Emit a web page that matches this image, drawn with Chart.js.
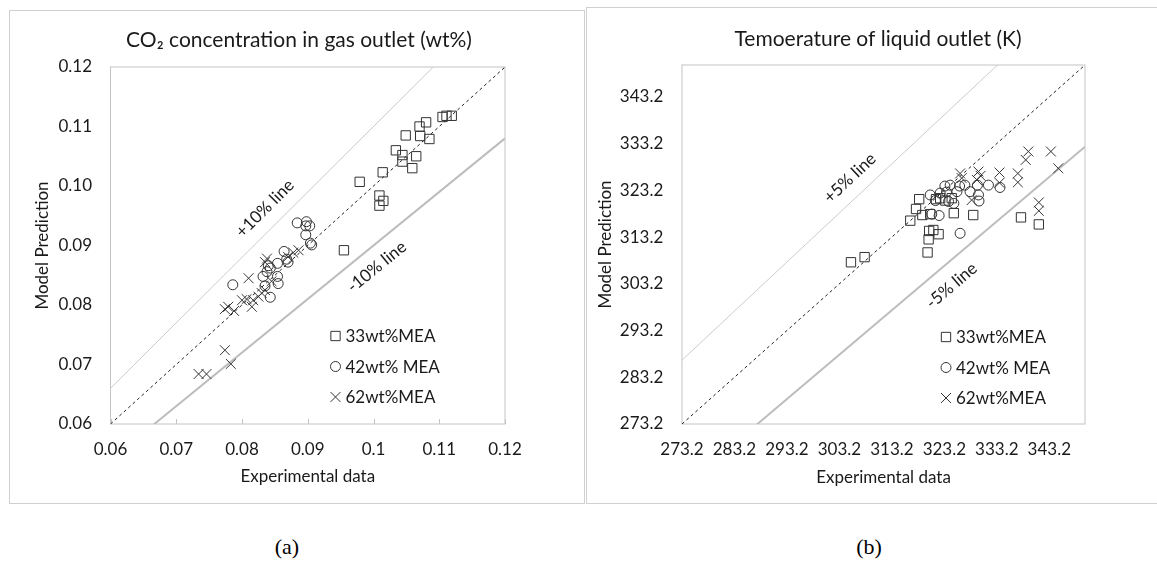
<!DOCTYPE html>
<html>
<head>
<meta charset="utf-8">
<title>CO2 and liquid outlet temperature parity plots</title>
<script src="https://cdn.jsdelivr.net/npm/chart.js@4.4.1/dist/chart.umd.min.js"></script>
<style>
    html, body {
        margin: 0;
        padding: 0;
        background: #ffffff;
    }

    body {
        position: relative;
        width: 1157px;
        height: 576px;
        overflow: hidden;
    }

    .panel {
        position: absolute;
        box-sizing: border-box;
        border: 1px solid #d0d0d0;
    }

    #panelA { left: 9px;   top: 10px; width: 576px; height: 494px; }
    #panelB { left: 586px; top: 7px;  width: 600px; height: 497px; }

    canvas {
        position: absolute;
    }

    #chartA { left: 10px;  top: 11px; }
    #chartB { left: 587px; top: 8px; }

    .caption {
        position: absolute;
        top: 534px;
        width: 60px;
        text-align: center;
        font-family: "Liberation Serif", "Times New Roman", serif;
        font-size: 22px;
        color: #000;
    }

    #capA { left: 257px; }
    #capB { left: 839px; }
</style>
</head>
<body>

<div class="panel" id="panelA"></div>
<div class="panel" id="panelB"></div>

<canvas id="chartA" width="573" height="491"></canvas>
<canvas id="chartB" width="570" height="494"></canvas>

<div class="caption" id="capA">(a)</div>
<div class="caption" id="capB">(b)</div>

<script>
// =====================================
// Data - (a) CO2 concentration in gas outlet (wt%)
// =====================================

const co2Ticks = [0.06, 0.07, 0.08, 0.09, 0.10, 0.11, 0.12];
const co2XLabels = ["0.06", "0.07", "0.08", "0.09", "0.1", "0.11", "0.12"];
const co2YLabels = ["0.06", "0.07", "0.08", "0.09", "0.10", "0.11", "0.12"];

const co2Mea33X = [0.1119, 0.1111, 0.1105, 0.1080, 0.1070, 0.1071, 0.1085, 0.1049, 0.1034, 0.1044,
                   0.1044, 0.1065, 0.1059, 0.1014, 0.0979, 0.1009, 0.1015, 0.1009, 0.0955];
const co2Mea33Y = [0.1118, 0.1118, 0.1116, 0.1107, 0.1100, 0.1084, 0.1079, 0.1085, 0.1060, 0.1052,
                   0.1041, 0.1050, 0.1030, 0.1023, 0.1007, 0.0984, 0.0975, 0.0967, 0.0892];

const co2Mea42X = [0.0884, 0.0898, 0.0897, 0.0903, 0.0897, 0.0904, 0.0906, 0.0864, 0.0868, 0.0854,
                   0.0843, 0.0838, 0.0854, 0.0855, 0.0786, 0.0832, 0.0835, 0.0843, 0.0840, 0.0870];
const co2Mea42Y = [0.0938, 0.0940, 0.0933, 0.0933, 0.0918, 0.0904, 0.0901, 0.0890, 0.0877, 0.0870,
                   0.0862, 0.0856, 0.0848, 0.0836, 0.0834, 0.0848, 0.0832, 0.0813, 0.0866, 0.0872];

const co2Mea62X = [0.0835, 0.0838, 0.0810, 0.0774, 0.0779, 0.0788, 0.0800, 0.0807, 0.0815, 0.0817,
                   0.0825, 0.0835, 0.0870, 0.0878, 0.0886, 0.0774, 0.0783, 0.0734, 0.0746, 0.0830,
                   0.0845];
const co2Mea62Y = [0.0872, 0.0878, 0.0845, 0.0793, 0.0797, 0.0790, 0.0808, 0.0810, 0.0797, 0.0808,
                   0.0814, 0.0825, 0.0881, 0.0888, 0.0892, 0.0724, 0.0701, 0.0684, 0.0684, 0.0820,
                   0.0840];

// =====================================
// Data - (b) Temperature of liquid outlet (K)
// =====================================

const tempMin = 273.2;
const tempMax = 350;
const tempTicks = [273.2, 283.2, 293.2, 303.2, 313.2, 323.2, 333.2, 343.2];
const tempLabels = ["273.2", "283.2", "293.2", "303.2", "313.2", "323.2", "333.2", "343.2"];

const tempMea33X = [305.4, 308.0, 316.7, 317.8, 318.4, 319.0, 320.0, 320.2, 320.3, 321.1,
                    322.1, 320.5, 321.6, 322.4, 323.4, 324.6, 325.0, 328.7, 337.8, 341.2];
const tempMea33Y = [307.8, 308.9, 316.7, 319.2, 321.3, 317.9, 309.9, 312.7, 314.5, 314.7,
                    313.8, 318.1, 321.3, 321.5, 321.0, 321.5, 318.3, 317.9, 317.4, 315.9];

const tempMea42X = [320.5, 320.8, 322.2, 323.3, 324.3, 322.4, 323.6, 324.0, 325.0, 326.2,
                    326.1, 327.1, 328.1, 329.5, 329.7, 329.8, 331.6, 333.8, 325.6, 321.5];
const tempMea42Y = [322.2, 318.1, 317.8, 324.1, 324.3, 322.6, 322.8, 320.8, 320.4, 314.0,
                    324.1, 324.3, 322.9, 324.3, 322.2, 320.9, 324.3, 323.8, 322.9, 321.0];

const tempMea62X = [326.2, 326.5, 329.7, 330.1, 329.4, 328.4, 333.7, 333.7, 337.2, 337.2,
                    339.2, 338.7, 343.5, 344.9, 341.2, 341.2];
const tempMea62Y = [326.8, 325.8, 327.2, 326.3, 325.4, 321.1, 327.0, 324.8, 326.8, 324.9,
                    331.5, 329.7, 331.5, 327.9, 320.6, 318.8];

// =====================================
// Helpers
// =====================================

const textColor = "#1a1a1a";
const markColor = "#333333";
const frameColor = "#c4c4c4";

function toPoints(xs, ys) {
    return xs.map((x, i) => ({ x: x, y: ys[i] }));
}

// straight line y = ratio * x across the axis range (clipped to the plot area)
function ratioLine(min, max, ratio) {
    return [{ x: min, y: min * ratio }, { x: max, y: max * ratio }];
}

function markerSet(label, style, radius, xs, ys) {
    return {
        label: label,
        data: toPoints(xs, ys),
        pointStyle: style,
        pointRadius: radius,
        pointHoverRadius: radius,
        pointBorderWidth: 1,
        borderColor: markColor,
        backgroundColor: "rgba(0,0,0,0)",
        showLine: false
    };
}

function lineSet(points, color, width, dash) {
    return {
        data: points,
        showLine: true,
        borderColor: color,
        borderWidth: width,
        borderDash: dash,
        pointRadius: 0,
        fill: false
    };
}

// frame, inner ticks, title, legend and line captions
const decor = {
    id: "decor",

    beforeDatasetsDraw(chart, args, opts) {
        const { ctx, chartArea: a } = chart;
        ctx.save();
        ctx.strokeStyle = frameColor;
        ctx.lineWidth = 1;
        ctx.strokeRect(a.left, a.top, a.right - a.left, a.bottom - a.top);

        if (opts.innerTicks) {
            const xs = chart.scales.x;
            ctx.beginPath();
            xs.ticks.forEach(t => {
                const px = Math.round(xs.getPixelForValue(t.value)) + 0.5;
                ctx.moveTo(px, a.bottom);
                ctx.lineTo(px, a.bottom - 5);
            });
            ctx.stroke();
        }
        ctx.restore();
    },

    afterDatasetsDraw(chart, args, opts) {
        const { ctx, chartArea: a } = chart;
        const xs = chart.scales.x;
        const ys = chart.scales.y;

        ctx.save();
        ctx.fillStyle = textColor;
        ctx.textBaseline = "middle";

        // chart title, centred over the plot box
        ctx.font = "21px Lato, sans-serif";
        ctx.textAlign = "center";
        ctx.fillText(opts.title, a.left + opts.titleX, a.top + opts.titleY);

        // legend
        ctx.font = "17px Lato, sans-serif";
        const items = chart.data.datasets.filter(d => !d.showLine);
        items.forEach((d, i) => {
            const x = a.left + opts.legendX;
            const y = a.top + opts.legendY + i * opts.legendGap;
            ctx.save();
            ctx.strokeStyle = d.borderColor;
            ctx.fillStyle = "rgba(0,0,0,0)";
            ctx.lineWidth = 1;
            Chart.helpers.drawPoint(ctx, {
                pointStyle: d.pointStyle,
                radius: d.pointRadius,
                rotation: 0,
                borderWidth: 1
            }, x, y);
            ctx.restore();
            ctx.textAlign = "left";
            ctx.fillText(d.label, x + 10, y + 1);
        });

        // captions along the reference lines
        opts.lineLabels.forEach(l => {
            const x1 = xs.getPixelForValue(l.at);
            const y1 = ys.getPixelForValue(l.at * l.ratio);
            const x2 = xs.getPixelForValue(l.at + l.step);
            const y2 = ys.getPixelForValue((l.at + l.step) * l.ratio);
            const angle = Math.atan2(y2 - y1, x2 - x1);
            ctx.save();
            ctx.translate(x1, y1 + l.dy);
            ctx.rotate(angle);
            ctx.textAlign = "center";
            ctx.fillText(l.text, 0, 0);
            ctx.restore();
        });

        ctx.restore();
    }
};

function buildOptions(cfg) {
    return {
        responsive: false,
        animation: false,
        events: [],
        layout: {
            padding: { left: 0, top: cfg.padTop, right: cfg.padRight, bottom: 0 }
        },
        plugins: {
            legend: { display: false },
            tooltip: { enabled: false },
            title: { display: false },
            decor: {
                title: cfg.title,
                titleX: cfg.titleX,
                titleY: cfg.titleY,
                innerTicks: cfg.innerTicks,
                legendX: cfg.legendX,
                legendY: cfg.legendY,
                legendGap: 30.5,
                lineLabels: cfg.lineLabels
            }
        },
        scales: {
            x: {
                type: "linear",
                min: cfg.min,
                max: cfg.max,
                grid: { display: false, drawTicks: false },
                border: { display: false },
                afterBuildTicks: scale => {
                    scale.ticks = cfg.ticks.map(v => ({ value: v }));
                },
                afterFit: scale => {
                    scale.height = cfg.xHeight;
                },
                ticks: {
                    color: textColor,
                    padding: 15.8,
                    maxRotation: 0,
                    autoSkip: false,
                    font: { family: "Lato, sans-serif", size: 17 },
                    callback: (v, i) => cfg.xLabels[i]
                },
                title: {
                    display: true,
                    text: "Experimental data",
                    color: textColor,
                    font: { family: "Lato, sans-serif", size: 17 },
                    padding: { top: 0, bottom: cfg.xTitlePad }
                }
            },
            y: {
                type: "linear",
                min: cfg.min,
                max: cfg.max,
                grid: { display: false, drawTicks: false },
                border: { display: false },
                afterBuildTicks: scale => {
                    scale.ticks = cfg.ticks.map(v => ({ value: v }));
                },
                afterFit: scale => {
                    scale.width = cfg.yWidth;
                },
                ticks: {
                    color: textColor,
                    padding: cfg.yTickPad,
                    autoSkip: false,
                    font: { family: "Lato, sans-serif", size: 17 },
                    callback: (v, i) => cfg.yLabels[i]
                },
                title: {
                    display: true,
                    text: "Model Prediction",
                    color: textColor,
                    font: { family: "Lato, sans-serif", size: 17 },
                    padding: { top: cfg.yTitlePad, bottom: 0 }
                }
            }
        }
    };
}

// =====================================
// Chart (a)
// =====================================

const co2Chart = new Chart(document.getElementById("chartA"), {
    type: "scatter",
    data: {
        datasets: [
            markerSet("33wt%MEA", "rect", 6.6, co2Mea33X, co2Mea33Y),
            markerSet("42wt% MEA", "circle", 5, co2Mea42X, co2Mea42Y),
            markerSet("62wt%MEA", "crossRot", 7, co2Mea62X, co2Mea62Y),
            lineSet(ratioLine(0.06, 0.12, 1), "#222222", 1, [3, 3]),
            lineSet(ratioLine(0.06, 0.12, 1.1), "#cccccc", 1, []),
            lineSet(ratioLine(0.06, 0.12, 0.9), "#bdbdbd", 2, [])
        ]
    },
    options: buildOptions({
        title: "CO\u2082 concentration in gas outlet (wt%)",
        titleX: 188.5,
        titleY: -27,
        min: 0.06,
        max: 0.12,
        ticks: co2Ticks,
        xLabels: co2XLabels,
        yLabels: co2YLabels,
        padTop: 56,
        padRight: 78,
        xHeight: 78,
        xTitlePad: 14.8,
        yWidth: 100.5,
        yTickPad: 18.5,
        yTitlePad: 22.8,
        innerTicks: true,
        legendX: 225,
        legendY: 269,
        lineLabels: [
            { text: "+10% line", at: 0.0835, ratio: 1.1, step: 0.01, dy: -26 },
            { text: "-10% line", at: 0.1005, ratio: 0.9, step: 0.01, dy: 24 }
        ]
    }),
    plugins: [decor]
});

// =====================================
// Chart (b)
// =====================================

const tempChart = new Chart(document.getElementById("chartB"), {
    type: "scatter",
    data: {
        datasets: [
            markerSet("33wt%MEA", "rect", 6.6, tempMea33X, tempMea33Y),
            markerSet("42wt% MEA", "circle", 5, tempMea42X, tempMea42Y),
            markerSet("62wt%MEA", "crossRot", 7, tempMea62X, tempMea62Y),
            lineSet(ratioLine(tempMin, tempMax, 1), "#222222", 1, [3, 3]),
            lineSet(ratioLine(tempMin, tempMax, 1.05), "#cccccc", 1, []),
            lineSet(ratioLine(tempMin, tempMax, 0.95), "#bdbdbd", 2, [])
        ]
    },
    options: buildOptions({
        title: "Temoerature of liquid outlet (K)",
        titleX: 196,
        titleY: -26,
        min: tempMin,
        max: tempMax,
        ticks: tempTicks,
        xLabels: tempLabels,
        yLabels: tempLabels,
        padTop: 57,
        padRight: 72,
        xHeight: 78,
        xTitlePad: 13.8,
        yWidth: 95,
        yTickPad: 18.7,
        yTitlePad: 8.8,
        innerTicks: false,
        legendX: 264,
        legendY: 272,
        lineLabels: [
            { text: "+5% line", at: 305.2, ratio: 1.05, step: 10, dy: -25 },
            { text: "-5% line", at: 324.6, ratio: 0.95, step: 10, dy: 26 }
        ]
    }),
    plugins: [decor]
});
</script>
</body>
</html>
